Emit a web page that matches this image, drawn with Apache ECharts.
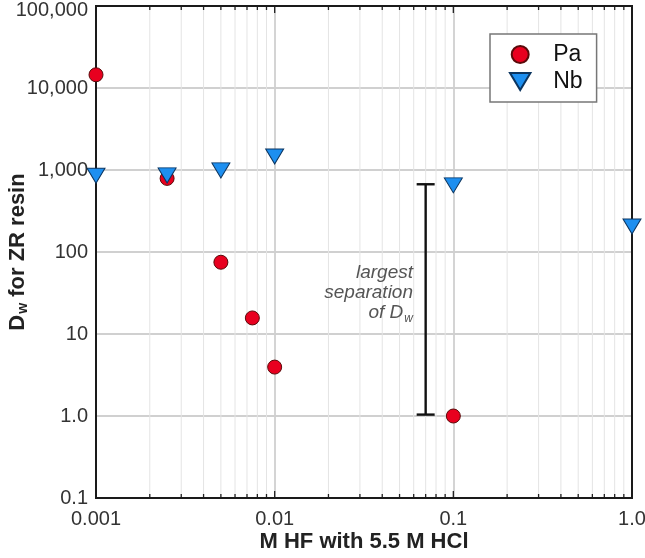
<!DOCTYPE html>
<html>
<head>
<meta charset="utf-8">
<script src="https://cdn.jsdelivr.net/npm/echarts@6/dist/echarts.min.js"></script>
<style>
html,body{margin:0;padding:0;background:#fff;}
#chart{width:645px;height:558px;}
</style>
</head>
<body>
<div id="chart"></div>
<script>
// ---- data ----
var paX = [0.001, 0.0025, 0.005, 0.0075, 0.01, 0.1];
var paY = [14500, 790, 75, 15.7, 3.95, 1.0];
var nbX = [0.001, 0.0025, 0.005, 0.01, 0.1, 1.0];
var nbY = [850, 860, 990, 1460, 650, 205];
var errX = [0.07];
var errLow = [1.04];
var errHigh = [670];
var xTickLabels = {'-3': '0.001', '-2': '0.01', '-1': '0.1', '0': '1.0'};
var yTickLabels = {'-1': '0.1', '0': '1.0', '1': '10', '2': '100', '3': '1,000', '4': '10,000', '5': '100,000'};
var xDecades = [-3, -2, -1];
var yDecades = [-1, 0, 1, 2, 3, 4];

// ---- minor / major tick positions ----
var xMinor = [], yMinor = [], xMajor = [], yMajor = [];
xDecades.forEach(function (d) { for (var k = 2; k <= 9; k++) xMinor.push(k * Math.pow(10, d)); });
yDecades.forEach(function (d) { for (var k = 2; k <= 9; k++) yMinor.push(k * Math.pow(10, d)); });
for (var d = -3; d <= 0; d++) xMajor.push(Math.pow(10, d));
for (var e = -1; e <= 5; e++) yMajor.push(Math.pow(10, e));

var FONT = '"Liberation Sans", Arial, Helvetica, sans-serif';
var chart = echarts.init(document.getElementById('chart'), null, {renderer: 'canvas'});

function gridItem(isX, isMajor) {
  return function (params, api) {
    var cs = params.coordSys;
    var v = api.value(0);
    var shapes = [];
    var tl = isMajor ? 7 : 4;
    if (isX) {
      var px = api.coord([v, 1])[0];
      if (!isMajor) {
        shapes.push({type: 'line', shape: {x1: px, y1: cs.y, x2: px, y2: cs.y + cs.height},
          style: {stroke: '#e4e4e4', lineWidth: 1}, z2: 0});
      }
      shapes.push({type: 'line', shape: {x1: px, y1: cs.y + cs.height, x2: px, y2: cs.y + cs.height - tl},
        style: {stroke: '#222', lineWidth: 1.3}, z2: 5});
      shapes.push({type: 'line', shape: {x1: px, y1: cs.y, x2: px, y2: cs.y + tl},
        style: {stroke: '#222', lineWidth: 1.3}, z2: 5});
    } else {
      var py = api.coord([0.01, v])[1];
      if (!isMajor) {
        shapes.push({type: 'line', shape: {x1: cs.x, y1: py, x2: cs.x + cs.width, y2: py},
          style: {stroke: '#e4e4e4', lineWidth: 1}, z2: 0});
      }
      shapes.push({type: 'line', shape: {x1: cs.x, y1: py, x2: cs.x + tl, y2: py},
        style: {stroke: '#222', lineWidth: 1.3}, z2: 5});
      shapes.push({type: 'line', shape: {x1: cs.x + cs.width, y1: py, x2: cs.x + cs.width - tl, y2: py},
        style: {stroke: '#222', lineWidth: 1.3}, z2: 5});
    }
    return {type: 'group', children: shapes};
  };
}

function gridSeries(vals, isX, isMajor) {
  return {
    type: 'custom', silent: true, z: 1,
    renderItem: gridItem(isX, isMajor),
    data: vals.map(function (v) { return isX ? [v, 1] : [0.01, v]; }),
    encode: {x: 0, y: 1},
    tooltip: {show: false}
  };
}

var option = {
  backgroundColor: '#fff',
  animation: false,
  textStyle: {fontFamily: FONT},
  grid: {left: 96, right: 13, top: 6, bottom: 60, outerBoundsMode: 'none', containLabel: false,
    show: true, borderColor: '#1a1a1a', borderWidth: 2, backgroundColor: 'transparent', z: 4},
  legend: {
    orient: 'vertical',
    left: 490, top: 34,
    backgroundColor: '#fff',
    borderColor: '#777', borderWidth: 1.5,
    padding: [9, 14, 9, 19],
    itemGap: 4,
    itemWidth: 22, itemHeight: 17,
    textStyle: {fontSize: 23, color: '#111', fontFamily: FONT, padding: [0, 0, 0, 17]},
    data: ['Pa', 'Nb'],
    z: 10
  },
  xAxis: {
    type: 'log', logBase: 10, min: 0.001, max: 1,
    name: 'M HF with 5.5 M HCl', nameLocation: 'middle', nameGap: 33, nameMoveOverlap: false,
    nameTextStyle: {fontSize: 22, fontWeight: 'bold', color: '#222', fontFamily: FONT},
    axisLine: {show: false},
    axisTick: {show: false},
    axisLabel: {fontSize: 20, color: '#333', margin: 11, fontFamily: FONT,
      formatter: function (v) { return xTickLabels[String(Math.round(Math.log10(v)))] || ''; }},
    splitLine: {show: true, lineStyle: {color: '#d0d0d0', width: 1.8}}
  },
  yAxis: {
    type: 'log', logBase: 10, min: 0.1, max: 100000, splitNumber: 6,
    name: 'D{sub|w} for ZR resin', nameLocation: 'middle', nameGap: 66, nameRotate: 90,
    nameMoveOverlap: false,
    nameTextStyle: {fontSize: 22, fontWeight: 'bold', color: '#222', fontFamily: FONT,
      rich: {sub: {fontSize: 14, fontWeight: 'bold', color: '#222', padding: [10, 0, 0, 1], fontFamily: FONT}}},
    axisLine: {show: false},
    axisTick: {show: false},
    axisLabel: {fontSize: 20, color: '#333', margin: 8, fontFamily: FONT,
      formatter: function (v) {
        var k = Math.round(Math.log10(v));
        var t = yTickLabels[String(k)] || '';
        return k === 5 ? '{top|' + t + '}' : t;
      },
      rich: {top: {fontSize: 20, color: '#333', fontFamily: FONT, padding: [8, 0, 0, 0]}}},
    splitLine: {show: true, lineStyle: {color: '#d0d0d0', width: 1.8}}
  },
  graphic: [{
    type: 'text',
    x: 413, y: 263,
    style: {
      text: 'largest\nseparation\nof D{sub|w}',
      align: 'right',
      fontSize: 19, fontStyle: 'italic', fill: '#555', lineHeight: 20, fontFamily: FONT,
      rich: {sub: {fontSize: 12, fontStyle: 'italic', fill: '#555', padding: [11, 0, 0, 1], fontFamily: FONT}}
    },
    z: 20
  }],
  series: [
    gridSeries(xMinor, true, false),
    gridSeries(yMinor, false, false),
    gridSeries(xMajor, true, true),
    gridSeries(yMajor, false, true),
    {
      name: 'errbar', type: 'custom', z: 3, silent: true,
      data: errX.map(function (x, i) { return [x, errLow[i], errHigh[i]]; }),
      encode: {x: 0, y: [1, 2]},
      renderItem: function (params, api) {
        var lo = api.coord([api.value(0), api.value(1)]);
        var hi = api.coord([api.value(0), api.value(2)]);
        var hw = 9;
        var st = {stroke: '#111', lineWidth: 2.4};
        return {type: 'group', children: [
          {type: 'line', shape: {x1: lo[0], y1: lo[1], x2: hi[0], y2: hi[1]}, style: st},
          {type: 'line', shape: {x1: lo[0] - hw, y1: lo[1], x2: lo[0] + hw, y2: lo[1]}, style: st},
          {type: 'line', shape: {x1: hi[0] - hw, y1: hi[1], x2: hi[0] + hw, y2: hi[1]}, style: st}
        ]};
      }
    },
    {
      name: 'Pa', type: 'scatter', z: 6,
      symbol: 'circle', symbolSize: 14,
      itemStyle: {color: '#e8001f', borderColor: '#5a0a0a', borderWidth: 1, opacity: 1},
      data: paX.map(function (x, i) { return [x, paY[i]]; })
    },
    {
      name: 'Nb', type: 'scatter', z: 6,
      symbol: 'path://M0,0L18,0L9,15Z', symbolSize: [18, 15],
      itemStyle: {color: '#1d8ff0', borderColor: '#0b3560', borderWidth: 1, opacity: 1},
      data: nbX.map(function (x, i) { return [x, nbY[i]]; })
    }
  ]
};
chart.setOption(option);
</script>
</body>
</html>
